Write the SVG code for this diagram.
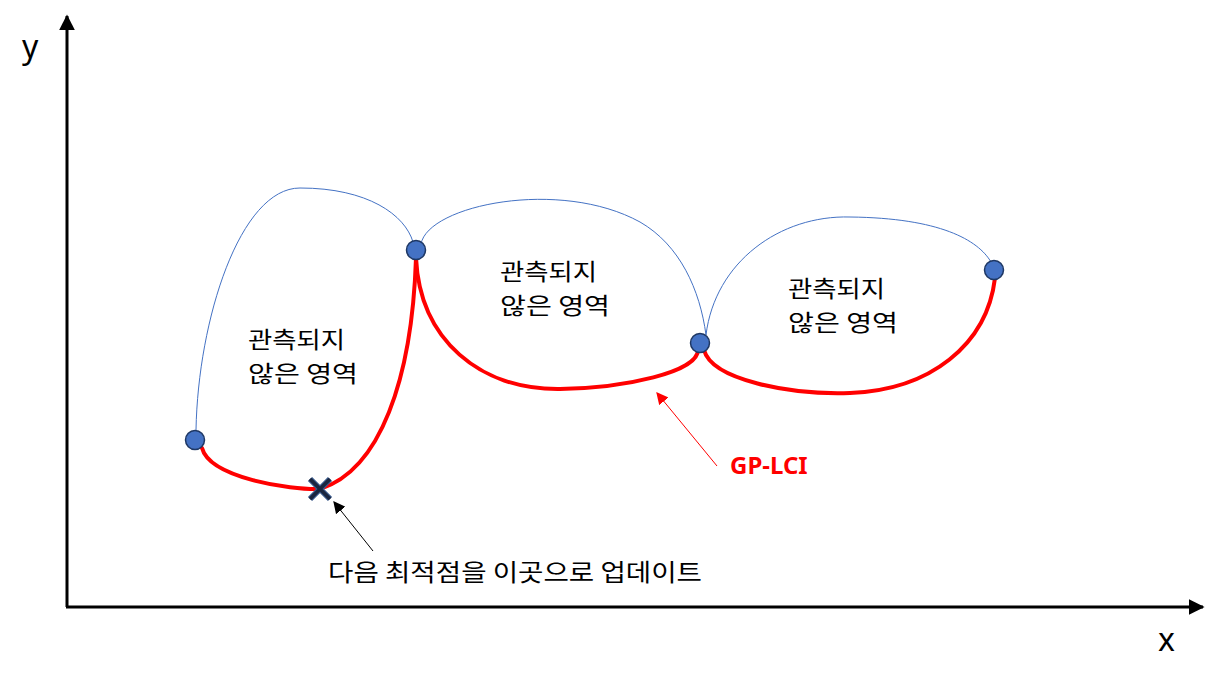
<svg xmlns="http://www.w3.org/2000/svg" width="1218" height="682" viewBox="0 0 1218 682">
<style>
.lbl{font-family:"Noto Sans CJK KR","Noto Sans",sans-serif;font-size:23px;fill:#000}
.bl{fill:none;stroke:#4472C4;stroke-width:1}
.rd{fill:none;stroke:#FF0000;stroke-width:4;stroke-linecap:round}
.pt{fill:#4472C4;stroke:#1F3864;stroke-width:1.5}
.ax{stroke:#000;stroke-width:3;fill:none}
</style>
<defs>
<marker id="ah" viewBox="0 0 10 10" refX="9" refY="5" markerWidth="12" markerHeight="12" markerUnits="userSpaceOnUse" orient="auto"><path d="M0,0 L10,5 L0,10 z" fill="#000"/></marker>
<marker id="ahr" viewBox="0 0 10 10" refX="9" refY="5" markerWidth="12" markerHeight="12" markerUnits="userSpaceOnUse" orient="auto"><path d="M0,0 L10,5 L0,10 z" fill="#FF0000"/></marker>
<marker id="axh" viewBox="0 0 10 10" refX="9" refY="5" markerWidth="16" markerHeight="16" markerUnits="userSpaceOnUse" orient="auto"><path d="M0,0 L10,5 L0,10 z" fill="#000"/></marker>
</defs>
<g id="axes">
<line class="ax" x1="67" y1="607" x2="67" y2="16" marker-end="url(#axh)"/>
<line class="ax" x1="66" y1="607" x2="1203" y2="607" marker-end="url(#axh)"/>
<text x="22" y="58" font-family="Noto Sans,sans-serif" font-size="32">y</text>
<text x="1158" y="651" font-family="Noto Sans,sans-serif" font-size="32">x</text>
</g>
<g id="connectors">
<path class="bl" d="M196,430 C198,320 240,188 300,188 C368,188 405,215 413,242"/>
<path class="bl" d="M421,244 C428,205 560,178 640,222 C680,245 700,290 706,335"/>
<path class="bl" d="M706,335 C715,262 780,215 850,217 C940,218 978,240 991,262"/>
<path class="rd" d="M202,448 C210,478 290,490 320,489 C380,470 412,380 416,258"/>
<path class="rd" d="M416,258 C420,340 480,390 560,389 C625,388 698,372 698,350"/>
<path class="rd" d="M704,350 C712,380 790,395 850,393 C930,390 987,345 995,278"/>
<line x1="373" y1="551" x2="334" y2="502" stroke="#000" stroke-width="1" marker-end="url(#ah)"/>
<line x1="717" y1="466" x2="657" y2="393" stroke="#FF0000" stroke-width="1" marker-end="url(#ahr)"/>
</g>
<g id="p1"><circle class="pt" cx="195" cy="440" r="9.5"/></g>
<g id="p2"><circle class="pt" cx="416" cy="250" r="9.5"/></g>
<g id="p3"><circle class="pt" cx="700" cy="343" r="9.5"/></g>
<g id="p4"><circle class="pt" cx="994" cy="270" r="9.5"/></g>
<g id="xmark">
<path d="M310,479 L330,499 M330,479 L310,499" stroke="#3a5a8c" stroke-width="6"/>
<path d="M310,479 L330,499 M330,479 L310,499" stroke="#1a2640" stroke-width="3.5"/>
</g>
<g id="label1"><text class="lbl" x="248" y="348" textLength="97" lengthAdjust="spacingAndGlyphs">관측되지</text><text class="lbl" x="248" y="382" textLength="110" lengthAdjust="spacingAndGlyphs">않은 영역</text></g>
<g id="label2"><text class="lbl" x="500" y="280" textLength="97" lengthAdjust="spacingAndGlyphs">관측되지</text><text class="lbl" x="500" y="314" textLength="110" lengthAdjust="spacingAndGlyphs">않은 영역</text></g>
<g id="label3"><text class="lbl" x="788" y="297" textLength="97" lengthAdjust="spacingAndGlyphs">관측되지</text><text class="lbl" x="788" y="331" textLength="110" lengthAdjust="spacingAndGlyphs">않은 영역</text></g>
<g id="note"><text class="lbl" x="328" y="581" style="font-size:24px" textLength="374" lengthAdjust="spacingAndGlyphs">다음 최적점을 이곳으로 업데이트</text></g>
<g id="gplci"><text x="730" y="474" font-family="Noto Sans,sans-serif" font-weight="bold" font-size="24" fill="#FF0000">GP-LCI</text></g>
</svg>
